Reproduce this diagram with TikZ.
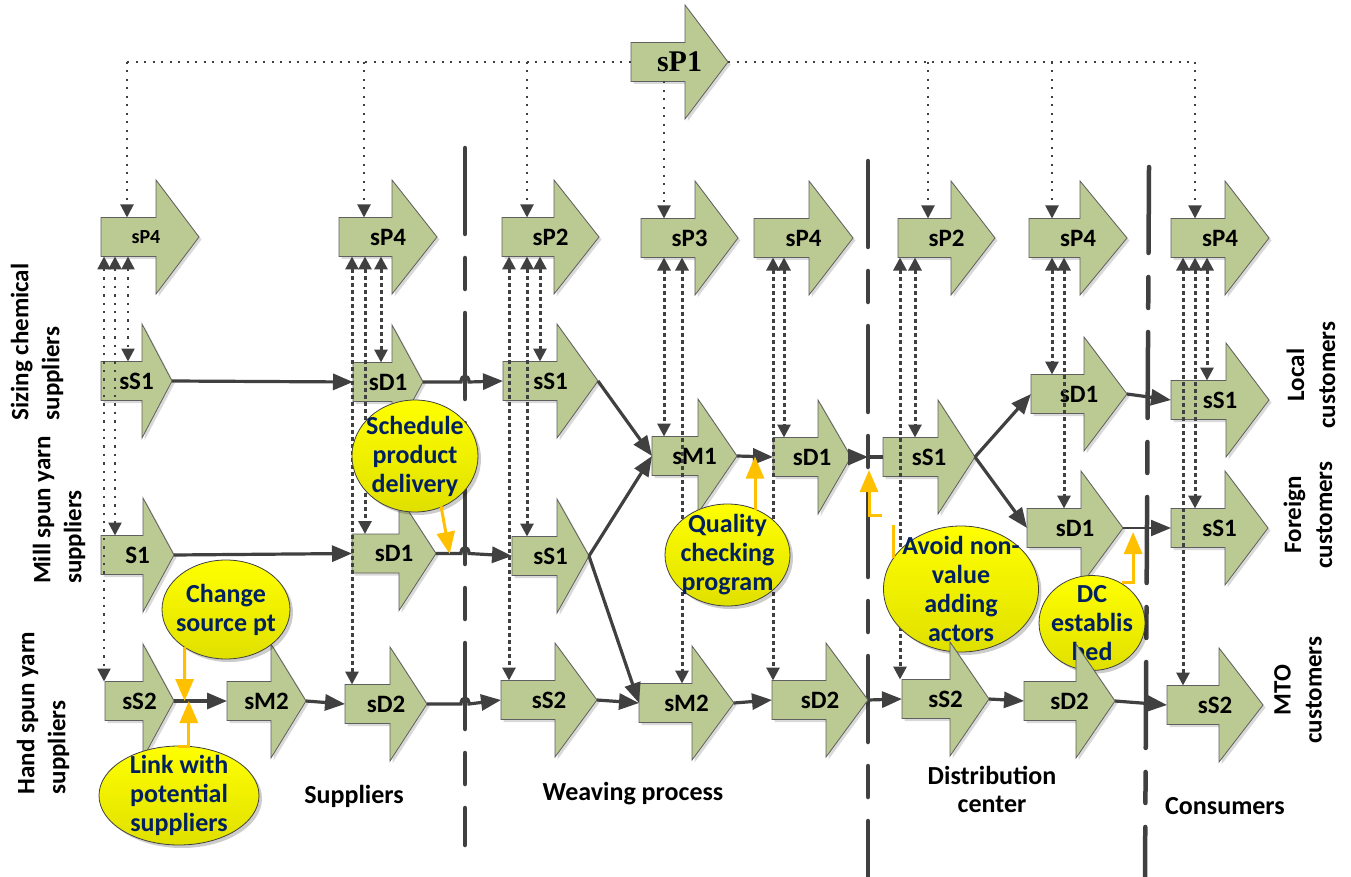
\documentclass[tikz,border=0pt]{standalone}
\usepackage{fontspec}
\setmainfont{Carlito}
\newfontfamily\serifb{Liberation Serif}
\usetikzlibrary{arrows.meta,calc}
\pgfdeclarelayer{bg}\pgfdeclarelayer{ell}\pgfdeclarelayer{fg}
\pgfsetlayers{bg,main,ell,fg}
\definecolor{arrfill}{RGB}{187,201,146}
\definecolor{arredge}{RGB}{95,95,95}
\definecolor{dk}{RGB}{64,64,64}
\definecolor{org}{RGB}{255,192,0}
\definecolor{navy}{RGB}{0,32,96}
\definecolor{ylw}{RGB}{255,255,0}
\definecolor{ylwd}{RGB}{224,224,0}
\tikzset{
 blkshape/.style={fill=arrfill, draw=arredge, line width=0.8pt, line join=miter},
 blkshadow/.style={fill=black, opacity=0.15},
 blklbl/.style={inner sep=0pt, font=\bfseries\fontsize{25}{30}\selectfont},
 conn/.style={draw=dk, line width=3.2pt, arrows={-Triangle[length=20pt,width=16pt]}},
 connthin/.style={draw=dk, line width=2.2pt, arrows={-Triangle[length=20pt,width=16pt]}},
 connplain/.style={draw=dk, line width=3.2pt},
 fdot/.style={draw=dk, line width=2pt, dash pattern=on 2pt off 6.5pt},
 fdotl/.style={draw=dk, line width=2.4pt, dash pattern=on 2.4pt off 6pt},
 tdot/.style={draw=dk, line width=3pt, dash pattern=on 4pt off 3pt},
 tipdn/.style={arrows={-Triangle[length=13pt,width=13pt]}},
 tipboth/.style={arrows={Triangle[length=13pt,width=13pt]-Triangle[length=13pt,width=13pt]}},
 divider/.style={draw=dk, line width=4.5pt, line cap=round, dash pattern=on 86pt off 24pt on 31pt off 24pt},
 orng/.style={draw=org, line width=3pt, arrows={-Triangle[length=22pt,width=18pt]}},
 orngline/.style={draw=org, line width=3pt},
 ellfill/.style={draw=dk, line width=0.8pt, top color=ylw, bottom color=ylwd},
 ellshadow/.style={fill=black, opacity=0.2},
 elltxt/.style={inner sep=0pt, align=center, text=navy, font=\bfseries\fontsize{26}{29}\selectfont},
 sidelbl/.style={inner sep=0pt, rotate=90, font=\bfseries\fontsize{25}{31}\selectfont},
 botlbl/.style={inner sep=0pt, align=center, font=\bfseries\fontsize{26}{28}\selectfont},
}
% block arrow: [label opts]{name}{left x}{centre y}{head base x}{tip x}{text}
\newcommand{\blk}[7][]{%
 \fill[blkshadow] (#3+2.5,#4-17) -- (#5+2.5,#4-17) -- (#5+2.5,#4-54.5) -- (#6+2.5,#4+2.5) -- (#5+2.5,#4+59.5) -- (#5+2.5,#4+22) -- (#3+2.5,#4+22) -- cycle;
 \draw[blkshape] (#3,#4-19.5) -- (#5,#4-19.5) -- (#5,#4-57) -- (#6,#4) -- (#5,#4+57) -- (#5,#4+19.5) -- (#3,#4+19.5) -- cycle;
 \coordinate (#2-w) at (#3,#4);
 \coordinate (#2-t) at (#6,#4);
 \coordinate (#2-tl) at (#3,#4-19.5);
 \coordinate (#2-bl) at (#3,#4+19.5);
 \node[blklbl,#1] (#2) at ({(#3+#6)/2},#4) {#7};
}
% yellow ellipse: {name}{x}{y}{rx}{ry}{text}
\newcommand{\yell}[6]{%
 \coordinate (#1c) at (#2,#3);
 \fill[ellshadow] (#2+3,#3+3) ellipse [x radius=#4, y radius=#5];
 \path[ellfill] (#1c) ellipse [x radius=#4, y radius=#5];
 \node[elltxt] (#1) at (#1c) {#6};
}
\begin{document}
\begin{tikzpicture}[x=1pt,y=-1pt]
\useasboundingbox (0,0) rectangle (1351,877);

% ---------- dividers ----------
\begin{pgfonlayer}{bg}
\coordinate (d1a) at (465,148); \coordinate (d1b) at (465,845);
\coordinate (d2a) at (868,161); \coordinate (d2b) at (868,877);
\coordinate (d3a) at (1149,167); \coordinate (d3b) at (1145,877);
\draw[divider] (d1a) -- (d1b);
\draw[divider] (d2a) -- (d2b);
\draw[divider] (d3a) -- (d3b);
\end{pgfonlayer}

% ---------- block arrows ----------
\blk[xshift=-4pt,font=\bfseries\fontsize{20}{24}\selectfont]{P4a}{101}{237}{156}{199}{sP4}
\blk{P4b}{339}{237}{392}{437}{sP4}
\blk{P2a}{502}{237}{554}{599}{sP2}
\blk{P3}{641}{238}{695}{738}{sP3}
\blk{P4c}{754}{238}{809}{853}{sP4}
\blk{P2b}{898}{238}{951}{995}{sP2}
\blk{P4d}{1029}{238}{1080}{1127}{sP4}
\blk{P4e}{1171}{238}{1225}{1269}{sP4}
\blk[font=\serifb\bfseries\fontsize{30}{34}\selectfont]{P1}{631}{62}{685}{728}{sP1}

\blk{S1a}{101}{381}{142}{172}{sS1}
\blk{D1a}{353}{382}{392}{423}{sD1}
\blk{S1b}{503}{381}{557}{598}{sS1}
\blk{M1}{652}{456}{698}{737}{sM1}
\blk{D1b}{773}{457}{818}{851}{sD1}
\blk{S1c}{883}{457}{938}{975}{sS1}
\blk{D1c}{1031}{394}{1084}{1127}{sD1}
\blk{S1d}{1171}{400}{1226}{1269}{sS1}
\blk{S1e}{101}{555}{143}{174}{S1}
\blk{D1d}{352}{553.5}{399}{436}{sD1}
\blk{S1f}{512}{556}{557}{589}{sS1}
\blk{D1e}{1027}{528}{1081}{1123}{sD1}
\blk{S1g}{1171}{528}{1225}{1268}{sS1}

\blk{S2a}{105}{701}{143}{174}{sS2}
\blk{M2a}{227}{701}{271}{306}{sM2}
\blk{D2a}{345}{704}{390}{427}{sD2}
\blk{S2b}{501}{700}{555}{597}{sS2}
\blk{M2b}{639}{703}{692}{734}{sM2}
\blk{D2b}{772}{700}{826}{868}{sD2}
\begin{pgfonlayer}{fg}
\blk{S2c}{902}{699}{950}{989}{sS2}
\blk{D2c}{1024}{701}{1076}{1115}{sD2}
\end{pgfonlayer}
\blk{S2d}{1167}{705}{1219}{1263}{sS2}

% ---------- solid connectors ----------
\path (d1a |- D1a-t) ++(-4,0) coordinate (h1a) ++(8,0) coordinate (h1b);
\path (d1a |- D1d-t) ++(-4,0) coordinate (h2a) ++(8,0) coordinate (h2b);
\path (d1a |- D2a-t) ++(-4,0) coordinate (h3a) ++(8,0) coordinate (h3b);
\coordinate (h4) at (d2a |- D1b-t);

\draw[conn] (S1a-t) -- (D1a-w);
\draw[conn] (D1a-t) -- (h1a) .. controls +(0,-8) and +(0,-8) .. (h1b) -- (S1b-w);
\draw[conn] (S1e-t) -- (D1d-w);
\draw[conn] (D1d-t) -- (h2a) .. controls +(0,-8) and +(0,-8) .. (h2b) -- (S1f-w);
\draw[conn] (S2a-t) -- (M2a-w);
\draw[conn] (M2a-t) -- (D2a-w);
\draw[conn] (D2a-t) -- (h3a) .. controls +(0,-8) and +(0,-8) .. (h3b) -- (S2b-w);
\draw[conn] (S1b-t) -- (M1-w);
\draw[conn] (S1f-t) -- (M1-w);
\draw[conn] (S1f-t) -- (M2b-w);
\draw[conn] (S2b-t) -- (M2b-w);
\draw[conn] (M2b-t) -- (D2b-w);
\draw[conn] (M1-t) -- (D1b-w);
\draw[conn] (D1b-t) -- (h4);
\draw[connplain] (h4) -- (S1c-w);
\draw[conn] (S1c-t) -- (D1c-w);
\draw[conn] (S1c-t) -- (D1e-w);
\draw[conn] (D1c-t) -- (S1d-w);
\draw[connthin] (D1e-t) -- (S1g-w);
\draw[conn] (D2b-t) -- (S2c-w);
\draw[conn] (S2c-t) -- (D2c-w);
\draw[conn] (D2c-t) -- (S2d-w);

% ---------- sP1 distribution (fine dotted) ----------
\coordinate (P4a-in) at ($(P4a-tl)+(26,0)$);
\coordinate (P4b-in) at ($(P4b-tl)+(25,0)$);
\coordinate (P2a-in) at ($(P2a-tl)+(25,0)$);
\coordinate (P3-in) at ($(P3-tl)+(23,0)$);
\coordinate (P2b-in) at ($(P2b-tl)+(30,0)$);
\coordinate (P4d-in) at ($(P4d-tl)+(23,0)$);
\coordinate (P4e-in) at ($(P4e-tl)+(24,0)$);
\draw[fdot] (P4a-in |- P1-w) -- (P1-w);
\draw[fdot] (P1-t) -- (P4e-in |- P1-w);
\foreach \n in {P4a,P4b,P2a,P2b,P4d,P4e}
  \draw[fdot,tipdn] (\n-in |- P1-w) -- (\n-in);
\draw[fdot,tipdn] (P3-in |- P1-bl) -- (P3-in);

% ---------- vertical planning links ----------
\draw[fdotl,tipboth] ([xshift=3pt]P4a-bl) -- ([xshift=-1pt]S2a-tl);
\draw[fdotl,tipboth] ([xshift=14pt]P4a-bl) -- ([xshift=14pt]S1e-tl);
\draw[fdotl,tipboth] ([xshift=27pt]P4a-bl) -- ([xshift=27pt]S1a-tl);

\draw[tdot,tipboth] ([xshift=13pt]P4b-bl) -- ([xshift=7pt]D2a-tl);
\draw[tdot,tipboth] ([xshift=26pt]P4b-bl) -- ([xshift=13pt]D1d-tl);
\draw[tdot,tipboth] ([xshift=42pt]P4b-bl) -- ([xshift=28pt]D1a-tl);

\draw[tdot,tipboth] ([xshift=7pt]P2a-bl) -- ([xshift=8pt]S2b-tl);
\draw[tdot,tipboth] ([xshift=25pt]P2a-bl) -- ([xshift=15pt]S1f-tl);
\draw[tdot,tipboth] ([xshift=38pt]P2a-bl) -- ([xshift=37pt]S1b-tl);

\draw[tdot,tipboth] ([xshift=23pt]P3-bl) -- ([xshift=12pt]M1-tl);
\draw[tdot,tipboth] ([xshift=41pt]P3-bl) -- ([xshift=43pt]M2b-tl);

\draw[tdot,tipboth] ([xshift=19pt]P4c-bl) -- ([xshift=1pt]D2b-tl);
\draw[tdot,tipboth] ([xshift=30pt]P4c-bl) -- ([xshift=11pt]D1b-tl);

\draw[tdot,tipboth] ([xshift=2pt]P2b-bl) -- ([xshift=-2pt]S2c-tl);
\draw[tdot,tipboth] ([xshift=17pt]P2b-bl) -- ([xshift=32pt]S1c-tl);

\draw[tdot,tipboth] ([xshift=23pt]P4d-bl) -- ([xshift=21pt]D1c-tl);
\draw[tdot,tipboth] ([xshift=35pt]P4d-bl) -- ([xshift=37pt]D1e-tl);

\draw[tdot,tipboth] ([xshift=12pt]P4e-bl) -- ([xshift=16pt]S2d-tl);
\draw[tdot,tipboth] ([xshift=24pt]P4e-bl) -- ([xshift=24pt]S1g-tl);
\draw[tdot,tipboth] ([xshift=36pt]P4e-bl) -- ([xshift=36pt]S1d-tl);

% ---------- yellow ellipses ----------
\begin{pgfonlayer}{ell}
\yell{sched}{415}{456}{63}{56}{Schedule\\product\\delivery}
\yell{chg}{226}{609.5}{64}{49.5}{Change\\source pt}
\yell{link}{179}{795.5}{80}{49.5}{Link with\\potential\\suppliers}
\yell{qual}{727.5}{555}{62.5}{51}{Quality\\checking\\program}
\yell{avoid}{961}{589}{77.5}{63}{Avoid non-\\value\\adding\\actors}
\yell{dc}{1092}{623}{53}{47.5}{DC\\establis\\hed}
\end{pgfonlayer}

% ---------- orange improvement arrows ----------
\begin{pgfonlayer}{fg}
\coordinate (o1s) at ($(schedc)+(26,50)$);
\coordinate (o1) at ($(D1d-t)!0.18!(S1f-w)$);
\draw[orng] (o1s) -- (o1);
\coordinate (o2) at ($(S2a-t)!0.2!(M2a-w)$);
\coordinate (o2s) at ($(chgc)+(-41.4,37.5)$);
\draw[orng] (o2s) -- (o2);
\coordinate (o3) at ($(S2a-t)!0.28!(M2a-w)$);
\coordinate (o3s) at ($(linkc)+(-1,-49.5)$);
\draw[orng] (o3s) -| (o3);
\coordinate (o4) at ($(M1-t)!0.5!(D1b-w)$);
\coordinate (o4s) at ($(qualc)+(27.5,-45.5)$);
\draw[orng] (o4s) -- (o4);
\coordinate (o5) at ($(h4)+(1,13)$);
\coordinate (o5c) at ($(h4)+(14,58)$);
\draw[orng] (o5c) -| (o5);
\coordinate (o5a) at ($(avoidc)+(-68,-64)$);
\coordinate (o5b) at ($(avoidc)+(-68,-31)$);
\draw[orngline] (o5b) -- (o5a);
\coordinate (o6) at ($(D1e-t)!0.21!(S1g-w)+(0,4)$);
\coordinate (o6s) at ($(dcc)+(30,-41)$);
\draw[orng] (o6s) -| (o6);
\end{pgfonlayer}

% ---------- labels ----------
\node[sidelbl, align=left] (lblA) at (37,342) {Sizing chemical\\suppliers};
\node[sidelbl, align=left] (lblB) at (59,510) {Mill spun yarn\\suppliers};
\node[sidelbl, align=left] (lblC) at (43,713) {Hand spun yarn\\suppliers};
\node[sidelbl, align=center] (lblD) at (1311,375) {Local\\customers};
\node[sidelbl, align=center] (lblE) at (1308,515) {Foreign\\customers};
\node[sidelbl, align=center] (lblF) at (1298,690) {MTO\\customers};
\node[botlbl] (lblS) at (354,796) {Suppliers};
\node[botlbl] (lblW) at (633,794) {Weaving process};
\node[botlbl] (lblDC) at (992,789) {Distribution\\center};
\node[botlbl] (lblCo) at (1225,806) {Consumers};
\end{tikzpicture}
\end{document}
